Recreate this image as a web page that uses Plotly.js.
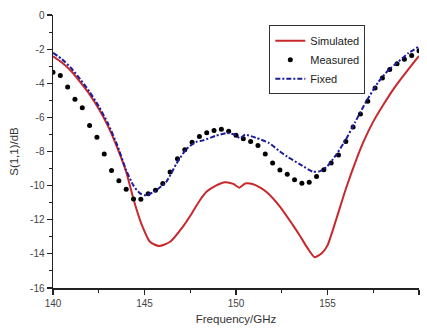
<!DOCTYPE html>
<html>
<head>
<meta charset="utf-8">
<script src="https://cdn.plot.ly/plotly-3.0.1.min.js"></script>
<style>html,body{margin:0;padding:0;background:#fff;}#chart{width:427px;height:329px;}</style>
</head>
<body>
<div id="chart"></div>
<script>
// Simulated (red solid)
const simFreq = [140.0,140.5,141.0,141.5,142.0,142.5,143.0,143.5,144.0,144.4,144.8,145.3,145.8,146.4,147.1,147.6,148.0,148.4,148.9,149.4,149.85,150.18,150.5,150.9,151.3,151.7,152.4,153.1,153.5,153.9,154.3,154.7,155.0,155.5,156.0,156.6,157.0,157.5,158.0,158.7,159.3,160.0];
const simS11  = [-2.42,-2.8,-3.3,-3.95,-4.65,-5.5,-6.5,-7.75,-9.2,-10.8,-12.15,-13.29,-13.54,-13.29,-12.4,-11.6,-10.9,-10.35,-10.0,-9.8,-9.9,-10.12,-9.88,-9.9,-10.1,-10.4,-11.23,-12.3,-12.95,-13.65,-14.2,-13.95,-13.5,-11.9,-10.2,-8.4,-7.35,-6.25,-5.35,-4.2,-3.35,-2.4];

// Measured (black dots)
const measFreq = [140.0,140.4,140.8,141.2,141.6,142.0,142.4,142.8,143.2,143.6,144.0,144.4,144.8,145.2,145.6,146.0,146.4,146.8,147.2,147.6,148.0,148.4,148.8,149.2,149.6,150.0,150.4,150.8,151.2,151.6,152.0,152.4,152.8,153.2,153.6,154.0,154.4,154.8,155.2,155.6,156.0,156.4,156.8,157.2,157.6,158.0,158.4,158.8,159.2,159.6,160.0];
const measS11  = [-3.36,-3.55,-4.22,-4.94,-5.43,-6.47,-7.16,-8.14,-9.11,-9.72,-10.21,-10.78,-10.8,-10.47,-10.27,-9.88,-9.2,-8.43,-7.9,-7.46,-7.12,-6.9,-6.77,-6.69,-6.81,-7.05,-7.25,-7.41,-7.65,-8.15,-8.68,-9.08,-9.33,-9.66,-9.86,-9.8,-9.47,-9.07,-8.68,-8.2,-7.41,-6.57,-5.8,-5.06,-4.28,-3.69,-3.2,-2.85,-2.6,-2.38,-2.1];

// Fixed (blue dash-dot)
const fixFreq = [140.0,140.5,141.0,141.5,142.0,142.5,143.0,143.5,144.0,144.4,144.75,145.1,145.6,146.2,146.75,147.3,147.8,148.2,148.9,149.5,149.95,150.22,150.5,151.1,151.8,152.4,152.8,153.5,154.2,154.6,155.0,155.5,156.0,156.5,157.1,157.8,158.4,158.8,159.4,160.0];
const fixS11  = [-2.22,-2.6,-3.12,-3.78,-4.5,-5.35,-6.35,-7.6,-9.1,-10.0,-10.45,-10.57,-10.3,-9.76,-8.7,-7.85,-7.45,-7.35,-7.08,-6.92,-7.02,-7.22,-7.02,-7.2,-7.5,-8.0,-8.3,-8.75,-9.18,-9.15,-8.85,-8.15,-7.3,-6.3,-5.1,-3.9,-3.15,-2.8,-2.25,-1.85];

const seriesNames = ['Simulated','Measured','Fixed'];
const xTickVals = [140,145,150,155,160];
const yTickVals = [0,-2,-4,-6,-8,-10,-12,-14,-16];

const traces = [
  {x: simFreq, y: simS11, name: seriesNames[0], type:'scatter', mode:'lines',
   line:{color:'#c8282c', width:2, shape:'spline', smoothing:0.6}},
  {x: measFreq, y: measS11, name: seriesNames[1], type:'scatter', mode:'markers',
   marker:{color:'#000', size:5, symbol:'circle'}},
  {x: fixFreq, y: fixS11, name: seriesNames[2], type:'scatter', mode:'lines',
   line:{color:'#1c1c9c', width:2, dash:'5px,2px,2px,2px', shape:'spline', smoothing:0.6}}
];

const font = {family:'"Liberation Sans", Arial, sans-serif', size:10, color:'#333'};
const layout = {
  width:427, height:329,
  margin:{l:53, r:8, t:15, b:41},
  paper_bgcolor:'#fff', plot_bgcolor:'#fff',
  font: font,
  showlegend:true,
  legend:{x:0.591, y:0.962, xanchor:'left', yanchor:'top', bgcolor:'#fff',
          bordercolor:'#333', borderwidth:1, font:{family:font.family, size:11, color:'#222'},
          tracegroupgap:0, itemwidth:30},
  xaxis:{range:[140,160], tickvals:xTickVals, ticktext:xTickVals.map(String),
         showgrid:false, zeroline:false, showline:true, linecolor:'#222', linewidth:1.5,
         ticks:'outside', ticklen:5, tickwidth:1.2, tickcolor:'#222',
         minor:{tickvals:[142.5,147.5,152.5,157.5], ticks:'outside', ticklen:3, tickcolor:'#222', tickwidth:1},
         title:{text:'Frequency/GHz', font:{family:font.family, size:11.5, color:'#333'}, standoff:7},
         tickfont:{family:font.family, size:10, color:'#444'}},
  yaxis:{range:[-16,0], tickvals:yTickVals, ticktext:yTickVals.map(String),
         showgrid:false, zeroline:false, showline:true, linecolor:'#222', linewidth:1.5,
         ticks:'outside', ticklen:5, tickwidth:1.2, tickcolor:'#222',
         minor:{tickvals:[-1,-3,-5,-7,-9,-11,-13,-15], ticks:'outside', ticklen:3, tickcolor:'#222', tickwidth:1},
         title:{text:'S(1,1)/dB', font:{family:font.family, size:11.5, color:'#333'}, standoff:9},
         tickfont:{family:font.family, size:10, color:'#444'}}
};

Plotly.newPlot('chart', traces, layout, {displayModeBar:false, staticPlot:true});
</script>
</body>
</html>
